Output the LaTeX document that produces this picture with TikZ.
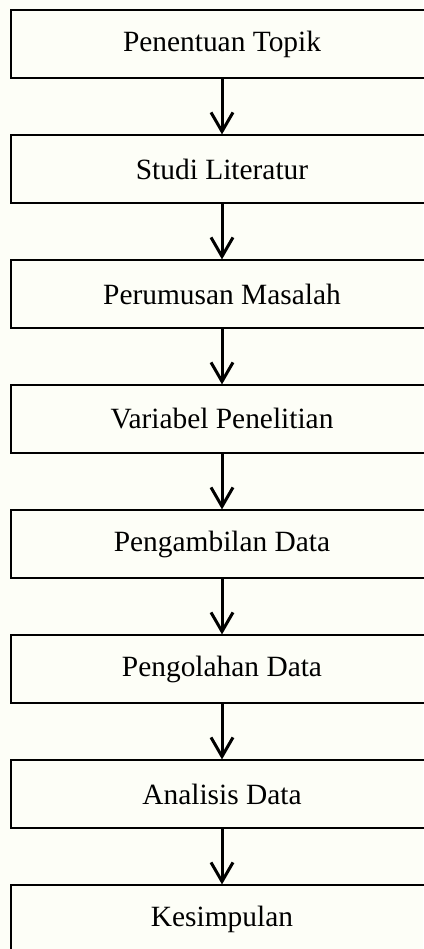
\documentclass[tikz,border=0pt]{standalone}
\usepackage{fontspec}
\setmainfont{Liberation Serif}
\usetikzlibrary{positioning,arrows.meta}
\definecolor{kertas}{RGB}{253,254,247}
\tikzset{
  tahap/.style={draw, line width=1.2pt, minimum width=422pt, minimum height=68pt,
    inner sep=0pt, font=\fontsize{29.4}{34}\selectfont},
  panah/.style={line width=3pt, -{Straight Barb[length=19pt,width=22pt]}}
}
\begin{document}
\begin{tikzpicture}[x=1pt, y=1pt, node distance=55.8pt]
    \useasboundingbox[fill=kertas] (0,0) rectangle (423,-949);
    \node[tahap] (topik) at (222,-44) {Penentuan Topik};
    \node[tahap, below=of topik] (literatur) {Studi Literatur};
    \node[tahap, below=of literatur] (masalah) {Perumusan Masalah};
    \node[tahap, below=of masalah] (variabel) {Variabel Penelitian};
    \node[tahap, below=of variabel] (ambil) {Pengambilan Data};
    \node[tahap, below=of ambil] (olah) {Pengolahan Data};
    \node[tahap, below=of olah] (analisis) {Analisis Data};
    \node[tahap, below=of analisis] (simpulan) {Kesimpulan};
    \draw[panah] (topik) -- (literatur);
    \draw[panah] (literatur) -- (masalah);
    \draw[panah] (masalah) -- (variabel);
    \draw[panah] (variabel) -- (ambil);
    \draw[panah] (ambil) -- (olah);
    \draw[panah] (olah) -- (analisis);
    \draw[panah] (analisis) -- (simpulan);
  \end{tikzpicture}
\end{document}
